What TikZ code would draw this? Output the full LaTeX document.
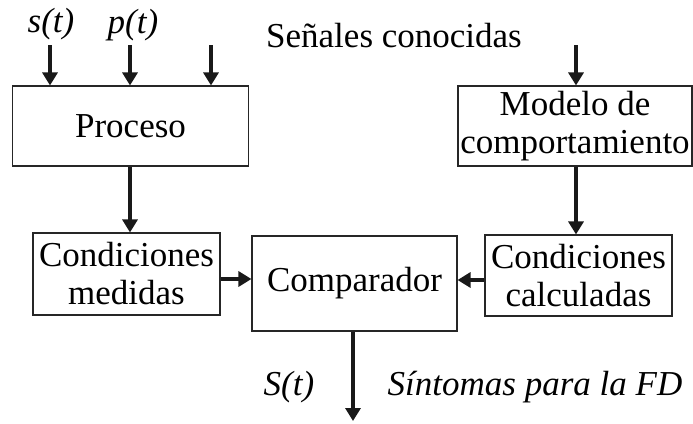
\documentclass[tikz,border=0pt]{standalone}
\usepackage{fontspec}
\setmainfont{Liberation Serif}
\usetikzlibrary{arrows.meta}
\begin{document}
\begin{tikzpicture}[x=1pt,y=-1pt,
  blk/.style={draw=black!85,line width=1.1pt,rectangle,inner sep=0pt,align=center,
    font=\fontsize{35}{38}\selectfont},
  arr/.style={line width=3.8pt,-{Triangle[length=13pt,width=15pt]},black!90},
  lbl/.style={inner sep=0pt,font=\fontsize{35}{38}\selectfont},
  ilbl/.style={inner sep=0pt,font=\fontsize{35}{38}\selectfont\itshape}]
\useasboundingbox (0,0) rectangle (693,423);
\fill[white] (0,0) rectangle (693,423);
% boxes
\node[blk,minimum width=236pt,minimum height=80pt] (proc) at (130.5,126) {Proceso};
\node[blk,minimum width=234pt,minimum height=80pt] (mod) at (575,126) {Modelo de\\comportamiento};
\node[blk,minimum width=187pt,minimum height=82pt] (cm) at (126.5,274) {Condiciones\\medidas};
\node[blk,minimum width=205pt,minimum height=95pt] (comp) at (354.5,283.5) {Comparador};
\node[blk,minimum width=187pt,minimum height=81pt] (cc) at (578.5,275.5) {Condiciones\\calculadas};
% labels
\node[ilbl] (ls) at (51,24) {s(t)};
\node[ilbl] (lp) at (133,25) {p(t)};
\node[lbl] (sen) at (394,36) {Señales conocidas};
\node[ilbl] (lS) at (289,387) {S(t)};
\node[ilbl] (sint) at (535,387) {Síntomas para la FD};
% free ends
\coordinate (i1) at (50,45);
\coordinate (i2) at (130,45);
\coordinate (i3) at (211,45);
\coordinate (i4) at (576,45);
\coordinate (out) at (353,421);
% connectors
\draw[arr] (i1) -- (i1 |- proc.north);
\draw[arr] (i2) -- (i2 |- proc.north);
\draw[arr] (i3) -- (i3 |- proc.north);
\draw[arr] (i4) -- (i4 |- mod.north);
\draw[arr] (proc.south -| i2) -- (i2 |- cm.north);
\draw[arr] (mod.south -| i4) -- (i4 |- cc.north);
\draw[arr] ([yshift=-5pt]cm.east) -- ([yshift=-5pt]cm.east -| comp.west);
\draw[arr] ([yshift=-4.5pt]cc.west) -- ([yshift=-4.5pt]cc.west -| comp.east);
\draw[arr] (comp.south -| out) -- (out);
\end{tikzpicture}
\end{document}
